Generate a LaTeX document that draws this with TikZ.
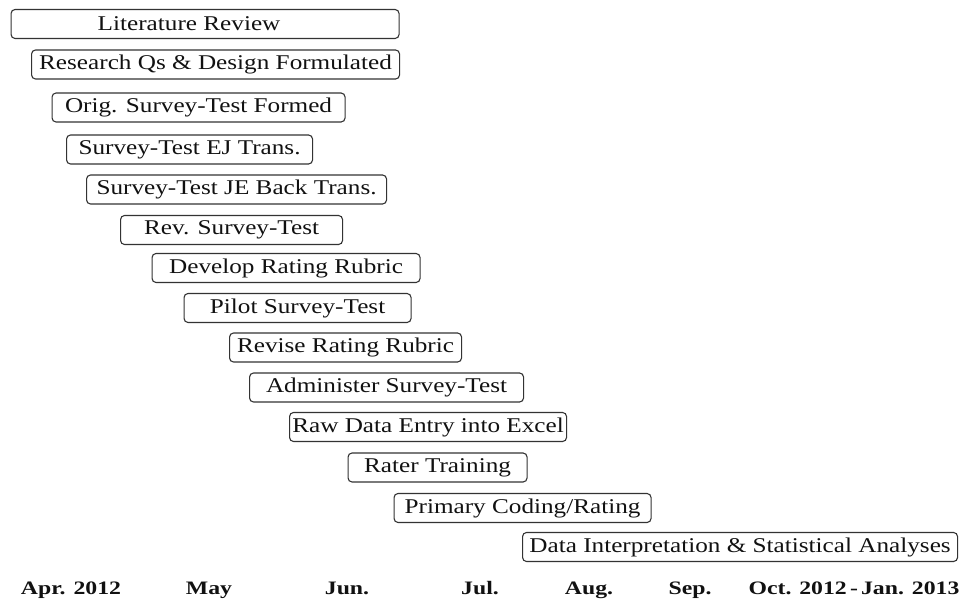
\documentclass[tikz,border=0pt]{standalone}
\usepackage{fontspec}
\setmainfont{Liberation Serif}[FakeStretch=1.2]
\newfontfamily\monthfont{Liberation Serif}[FakeStretch=1.25]
\usepackage{tikz}
\definecolor{boxline}{HTML}{333333}
\definecolor{textdark}{HTML}{111111}

\begin{document}
\begin{tikzpicture}[
  x=1pt, y=-1pt,
  task/.style={rectangle, rounded corners=4pt, draw=boxline, line width=1.1pt,
    minimum height=29pt, inner sep=0pt, anchor=west, text=textdark,
    font=\fontsize{21}{24}\selectfont},
  month/.style={anchor=base, text=textdark, font=\monthfont\bfseries\fontsize{19}{22}\selectfont},
]
\useasboundingbox (0,0) rectangle (965,601);

% Preparation phase
\node[task, minimum width=388pt] (litrev) at (10.5,24) {Literature Review\hspace*{32pt}};
\node[task, minimum width=368pt] (design) at (31,64.5) {Research Qs \& Design Formulated};
\node[task, minimum width=293pt] (origtest) at (51.5,107.5) {Orig. Survey-Test Formed};
\node[task, minimum width=246pt] (ejtrans) at (66,149.5) {Survey-Test EJ Trans.};
\node[task, minimum width=300pt] (jetrans) at (86,189.5) {Survey-Test JE Back Trans.};
\node[task, minimum width=222pt] (revtest) at (120,230) {Rev. Survey-Test};

% Rubric and piloting
\node[task, minimum width=268pt] (rubric) at (151.5,268) {Develop Rating Rubric};
\node[task, minimum width=227pt] (pilot) at (183.5,308) {Pilot Survey-Test};
\node[task, minimum width=232pt] (revrubric) at (229,347.5) {Revise Rating Rubric};

% Data collection and analysis
\node[task, minimum width=274pt] (admin) at (249,387.5) {Administer Survey-Test};
\node[task, minimum width=277pt] (entry) at (289,427) {Raw Data Entry into Excel};
\node[task, minimum width=179pt] (training) at (347.5,467.5) {Rater Training};
\node[task, minimum width=257pt] (coding) at (393.5,508) {Primary Coding/Rating};
\node[task, minimum width=435pt] (analysis) at (522,547) {Data Interpretation \& Statistical Analyses};

% Time axis labels
\node[month] (apr) at (71,594) {Apr. 2012};
\node[month] (may) at (209,594) {May};
\node[month] (jun) at (347,594) {Jun.};
\node[month] (jul) at (480,594) {Jul.};
\node[month] (aug) at (589,594) {Aug.};
\node[month] (sep) at (690,594) {Sep.};
\node[month] (octjan) at (854,594) {Oct. 2012\,-\,Jan. 2013};

\end{tikzpicture}
\end{document}
